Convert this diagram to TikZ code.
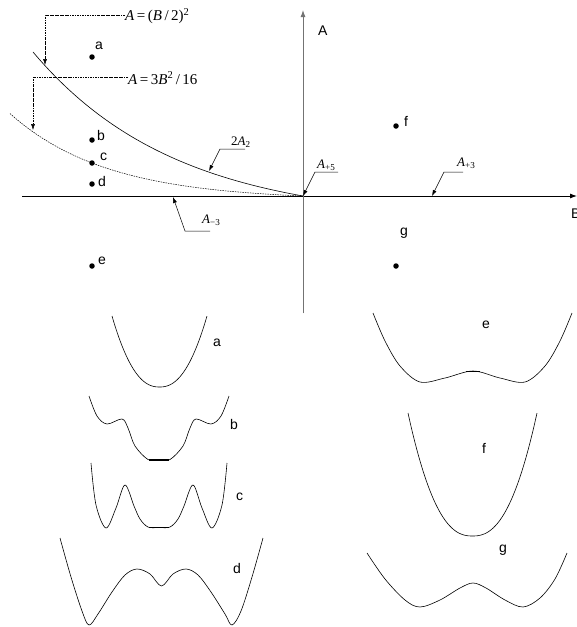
\documentclass[tikz,border=0pt]{standalone}
\usepackage{fontspec}
\setmainfont{Liberation Sans}
\newfontfamily\tms{Liberation Serif}
\usetikzlibrary{arrows.meta}
\begin{document}
\begin{tikzpicture}[x=1pt,y=-1pt,
  dot/.style={circle,fill=black,inner sep=0pt,minimum size=5.5pt},
  lbl/.style={font=\fontsize{14}{16}\selectfont,inner sep=0pt,anchor=west},
  eq/.style={font=\tms\fontsize{15}{17}\selectfont,inner sep=0pt,anchor=west},
  seq/.style={font=\tms\fontsize{13}{15}\selectfont,inner sep=0pt,anchor=west},
  leader/.style={line width=0.5pt,-{Latex[length=6pt,width=4pt]}},
  dd/.style={leader,dash pattern=on 2.5pt off 1pt on 0.6pt off 1pt},
  curve/.style={line width=0.6pt},
  axis/.style={line width=0.9pt,-{Latex[length=7pt,width=5pt]}}]
\useasboundingbox (0,0) rectangle (577,627);
% axes
\coordinate (O) at (303,196);
\coordinate (xl) at (22,196);
\coordinate (xr) at (577,196);
\coordinate (yb) at (303,313);
\coordinate (yt) at (303,10);
\draw[axis] (xl) -- (xr);
\draw[axis,draw=gray!90!black,fill=black] (yb) -- (yt);
\node[lbl] (Alab) at (318,31) {A};
\node[lbl] (Blab) at (571,214) {B};
% curves
\draw[curve] plot[domain=33:303,samples=90] (\x,{196-25.6*(exp(0.007*(303-\x))-1)});
\draw[line width=0.5pt,dash pattern=on 1.5pt off 1pt] plot[domain=10:303,samples=90] (\x,{196-4.24*(exp(0.0103*(303-\x))-1)});
% dots
\node[dot] (a) at (92,57) {};
\node[lbl] (al) at (95,46) {a};
\node[dot] (b) at (92,140) {};
\node[lbl] (bl) at (97,135) {b};
\node[dot] (c) at (92,163) {};
\node[lbl] (cl) at (100,157) {c};
\node[dot] (d) at (92,184) {};
\node[lbl] (dl) at (98,181) {d};
\node[dot] (e) at (92,266) {};
\node[lbl] (el) at (98,261) {e};
\node[dot] (f) at (396,126) {};
\node[lbl] (fl) at (404,121) {f};
\node[dot] (g) at (396,266) {};
\node[lbl] (gl) at (400,233) {g};
% equation annotations
\node[eq] (eq1) at (125,16) {\textit{A}\,=\,(\textit{B}\,/\,2)\textsuperscript{2}};
\coordinate (c1) at (45,15);
\coordinate (t1) at (45,65);
\draw[dd] (eq1.west |- c1) -- (c1) -- (t1);
\node[eq] (eq2) at (128,78) {\textit{A}\,=\,3\textit{B}\textsuperscript{2}\,/\,16};
\coordinate (c2) at (33,77);
\coordinate (t2) at (33,130);
\draw[dd] (eq2.west |- c2) -- (c2) -- (t2);
% leader labels
\node[seq] (l2a) at (231,142) {2\textit{A}\textsubscript{2}};
\coordinate (h2a) at (245,149);
\coordinate (k2a) at (220,149);
\coordinate (t2a) at (209,171);
\draw[leader] (h2a) -- (k2a) -- (t2a);
\node[seq] (lm3) at (202,220) {\textit{A}\textsubscript{−3}};
\coordinate (hm3) at (210,231);
\coordinate (km3) at (185,231);
\coordinate (tm3) at (173,197);
\draw[leader] (hm3) -- (km3) -- (tm3);
\node[seq] (lp5) at (317,165) {\textit{A}\textsubscript{+5}};
\coordinate (hp5) at (338,172);
\coordinate (kp5) at (315,172);
\draw[leader] (hp5) -- (kp5) -- (O);
\node[seq] (lp3) at (457,163) {\textit{A}\textsubscript{+3}};
\coordinate (hp3) at (463,172);
\coordinate (kp3) at (444,172);
\coordinate (tp3) at (432,196);
\draw[leader] (hp3) -- (kp3) -- (tp3);
% potentials
\draw[curve] plot[domain=-1:1,samples=60] ({159.5+47.5*\x},{387-71*abs(\x)^2.3});
\node[lbl] (pa) at (213,343) {a};
\draw[curve] plot[smooth,tension=0.55] coordinates {(89,396) (97,416) (107,424) (122,419) (128,428) (135,446) (148,459.5) (159,460) (170,459.5) (183,446) (190,428) (196,419) (211,424) (221,416) (229,396)};
\draw[line width=1.3pt] (149,460) -- (169,460);
\node[lbl] (pb) at (230,424) {b};
\draw[curve] plot[smooth,tension=0.55] coordinates {(91,463) (96,505) (106,528) (116,508) (125,485) (134,506) (140,519) (148,527) (159,527.5) (170,527) (178,519) (184,506) (193,485) (202,508) (212,528) (222,505) (227,463)};
\draw[line width=1.3pt] (149,527.5) -- (169,527.5);
\node[lbl] (pc) at (236,497) {c};
\draw[curve] plot[smooth,tension=0.55] coordinates {(60,538) (71,577) (82,611) (89,625) (98,614) (112,592) (125,575) (137,569) (150,574) (161.5,586) (173,574) (186,569) (198,575) (211,592) (225,614) (232,625) (241,611) (252,577) (263,538)};
\node[lbl] (pd) at (233,568) {d};
\draw[curve] plot[smooth,tension=0.55] coordinates {(373,313) (385,341) (400,366) (420,382) (445,378) (473,371) (500,378) (525,382) (545,366) (560,341) (572,313)};
\draw[line width=1.3pt] (466,371.3) -- (480,371.3);
\node[lbl] (pe) at (482,325) {e};
\draw[curve] plot[domain=-1:1,samples=60] ({472.5+64.5*\x},{536-123*abs(\x)^2.4});
\node[lbl] (pf) at (482,448) {f};
\draw[curve] plot[smooth,tension=0.55] coordinates {(367,553) (385,579) (405,600) (420,607) (440,600) (460,588) (473,583) (486,588) (505,600) (523,607) (540,598) (555,579) (567,553)};
\node[lbl] (pg) at (499,550) {g};
\end{tikzpicture}
\end{document}
